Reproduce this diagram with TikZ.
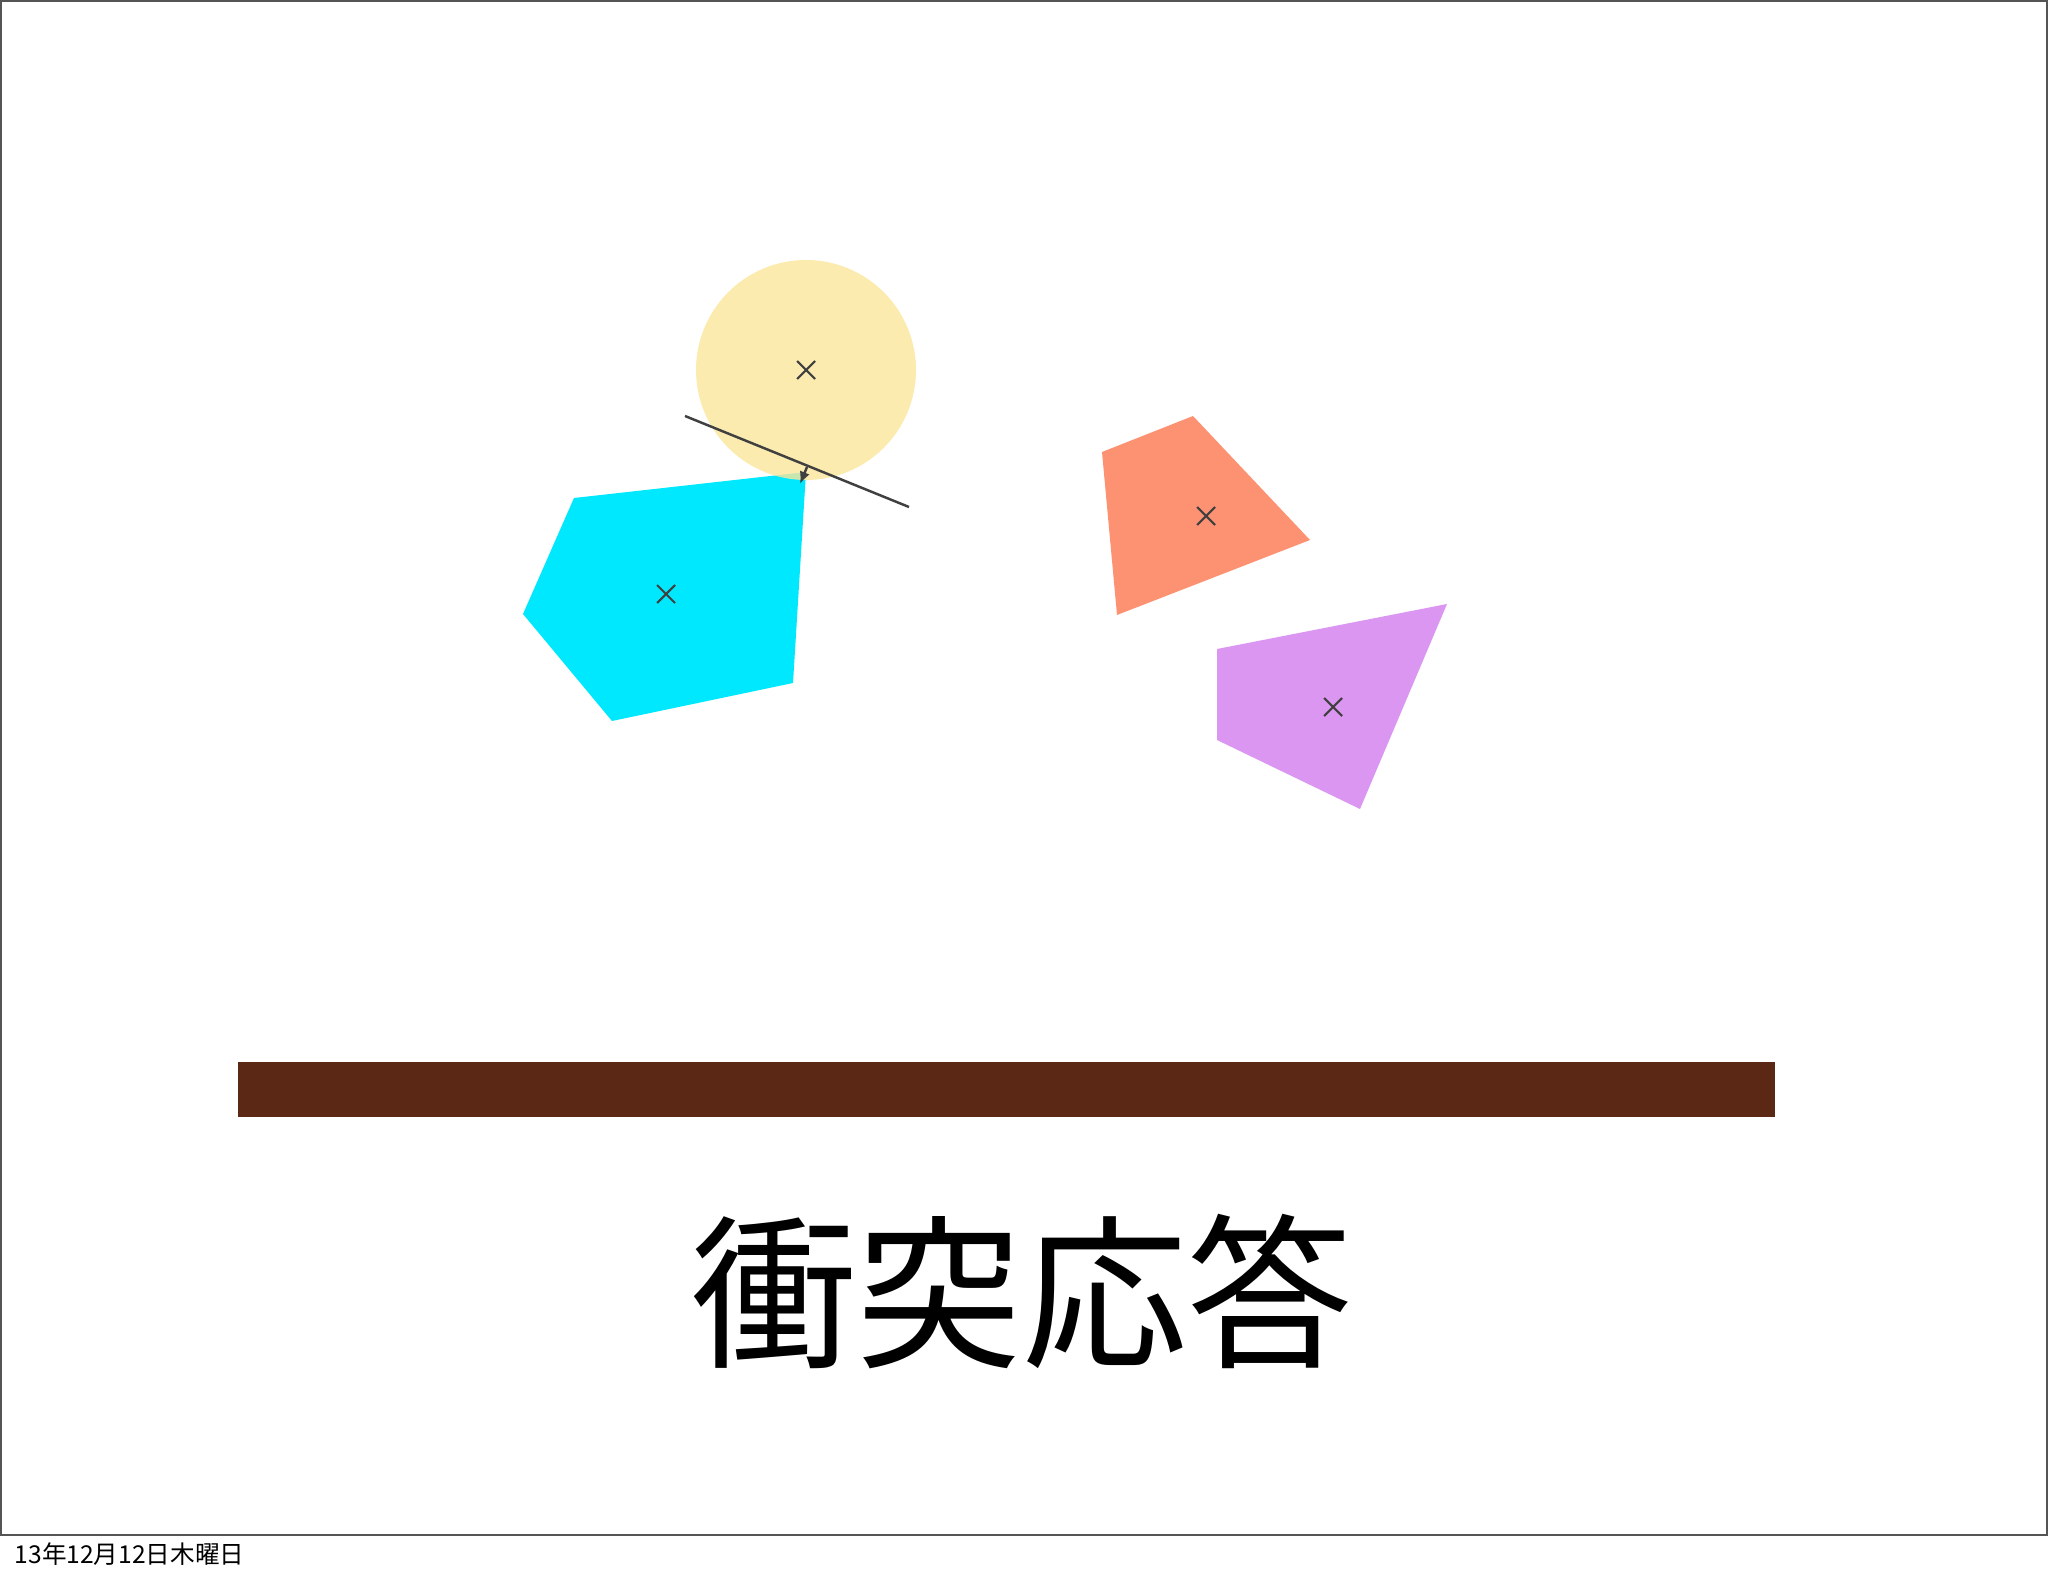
\documentclass[tikz,border=0pt]{standalone}
\usepackage{fontspec}
\newfontfamily\cjk{Noto Sans CJK JP}
\usetikzlibrary{arrows.meta}
\definecolor{ballyellow}{RGB}{252,230,156}
\definecolor{pentacyan}{RGB}{0,232,253}
\definecolor{quadorange}{RGB}{253,146,114}
\definecolor{quadpurple}{RGB}{218,150,240}
\definecolor{floorbrown}{RGB}{90,40,20}
\definecolor{framegray}{RGB}{85,85,85}
\tikzset{
  markline/.style={draw=black!75,line width=0.6pt},
  normalline/.style={draw=black!75,line width=0.7pt}
}

\begin{document}
\begin{tikzpicture}[x=0.01cm,y=-0.01cm]
        \useasboundingbox (0,0) rectangle (2048,1576);
        \fill[white] (0,0) rectangle (2048,1576);
        \draw[framegray,line width=0.6pt] (1,1) rectangle (2047,1535);
        % bodies
        \fill[pentacyan] (574,498)--(806,472)--(793,683)--(612,721)--(523,614)--cycle;
        \fill[quadorange] (1102,452)--(1193,416)--(1310,540)--(1117,615)--cycle;
        \fill[quadpurple] (1217,649)--(1447,604)--(1360,809)--(1217,740)--cycle;
        \fill[ballyellow,fill opacity=0.8] (806,370) circle (110);
        % centres
        \coordinate (ballc) at (806,370);
        \coordinate (pentac) at (666,594);
        \coordinate (orangec) at (1206,516);
        \coordinate (purplec) at (1333,707);
        \foreach \c in {ballc,pentac,orangec,purplec}
            \draw[markline] (\c) ++(-9,-9) -- ++(18,18) ++(0,-18) -- ++(-18,18);
        % contact
        \coordinate (planea) at (685,416);
        \coordinate (planeb) at (909,507);
        \coordinate (push) at (807,467);
        \coordinate (contact) at (800,484);
        \draw[normalline] (planea) -- (planeb);
        \draw[normalline,-{Latex[length=3.5pt,width=3pt]}] (push) -- (contact);
        % floor
        \fill[floorbrown] (238,1062) rectangle (1775,1117);
        \node[inner sep=0pt] (title) at (1022,1292) {\cjk\fontsize{47}{47}\selectfont 衝突応答};
        \node[anchor=west,inner sep=0pt] (date) at (14,1554) {\cjk\fontsize{7}{7}\selectfont 13年12月12日木曜日};
    \end{tikzpicture}
\end{document}
